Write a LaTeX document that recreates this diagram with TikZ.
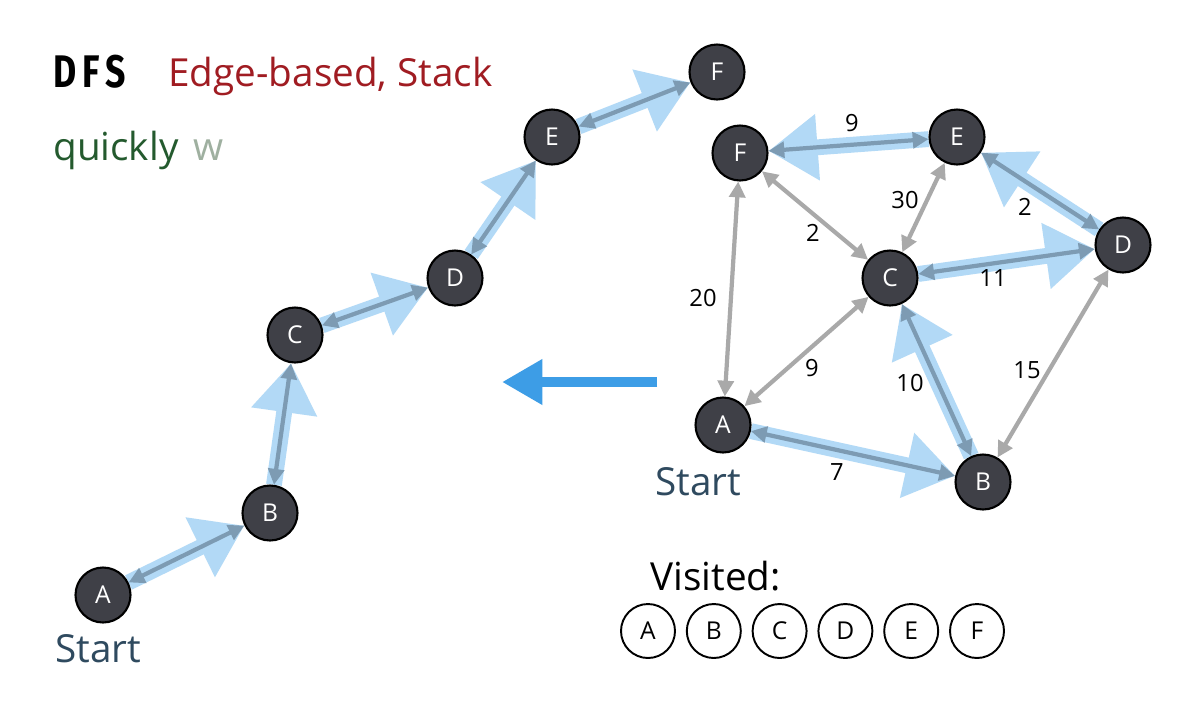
\documentclass[tikz,border=0pt]{standalone}
\usepackage{fontspec}
\setmainfont{Open Sans}
\newfontfamily\dfsfont{Fira Sans}
\usetikzlibrary{arrows.meta,backgrounds}
\definecolor{nodegray}{HTML}{3F4047}
\definecolor{titlered}{HTML}{A01C22}
\definecolor{quickgreen}{HTML}{245A2E}
\definecolor{wgray}{HTML}{9FB0A0}
\definecolor{startblue}{HTML}{2F4A5F}
\definecolor{arrowblue}{HTML}{3D9DE6}
\definecolor{edgegray}{HTML}{A9A9A9}
\definecolor{pathblue}{HTML}{7D9BB3}
\definecolor{glowblue}{HTML}{B2D9F6}
\begin{document}
\begin{tikzpicture}[x=0.02cm,y=-0.02cm,
  vertex/.style={circle,draw=black,line width=1.2pt,fill=nodegray,text=white,
    minimum size=1.1cm,inner sep=0pt,font=\fontsize{14}{16}\selectfont},
  visit/.style={circle,draw=black,line width=1.1pt,fill=white,
    minimum size=1.08cm,inner sep=0pt,font=\fontsize{14}{16}\selectfont},
  edge/.style={draw=edgegray,line width=2.4pt,{Triangle[length=9pt,width=9pt]}-{Triangle[length=9pt,width=9pt]}},
  tree/.style={edge,draw=pathblue},
  glow/.style={draw=glowblue,line width=9pt,-{Triangle[length=28pt,width=36pt]}},
  weight/.style={font=\fontsize{13.5}{15}\selectfont},
  label/.style={anchor=base west,inner sep=0pt},
  start/.style={label,text=startblue,font=\fontsize{22}{26}\selectfont}]
\useasboundingbox (0,0) rectangle (1189,701);

\node[label,font=\dfsfont\bfseries\fontsize{26}{28}\selectfont] (dfs) at (53,87) {\scalebox{0.78}[1]{D\,F\,S}};
\node[label,text=titlered,font=\fontsize{22}{26}\selectfont] (kind) at (168,86) {Edge-based, Stack};
\node[label,text=quickgreen,font=\fontsize{22}{26}\selectfont] (quick) at (53,160) {quickly};
\node[label,text=wgray,font=\fontsize{22}{26}\selectfont] (w) at (193,160) {w};

\node[vertex] (lA) at (103,595) {A};
\node[vertex] (lB) at (270,513) {B};
\node[vertex] (lC) at (295,335) {C};
\node[vertex] (lD) at (455,278) {D};
\node[vertex] (lE) at (552,137) {E};
\node[vertex] (lF) at (717,72) {F};
\node[start] (lstart) at (55,662) {Start};

\node[vertex] (rA) at (723,425) {A};
\node[vertex] (rB) at (983,482) {B};
\node[vertex] (rC) at (890,278) {C};
\node[vertex] (rD) at (1123,245) {D};
\node[vertex] (rE) at (957,137) {E};
\node[vertex] (rF) at (740,153) {F};
\node[start] (rstart) at (655,495) {Start};

\node[weight] at (852,123) {9};
\node[weight] at (905,200) {30};
\node[weight] at (813,233) {2};
\node[weight] at (1025,207) {2};
\node[weight] at (993,278) {11};
\node[weight] at (703,298) {20};
\node[weight] at (812,368) {9};
\node[weight] at (910,383) {10};
\node[weight] at (1027,370) {15};
\node[weight] at (837,472) {7};

\coordinate (moveS) at (657,382);
\coordinate (moveT) at (502,382);
\draw[draw=arrowblue,line width=6.2pt,-{Triangle[length=23pt,width=24.5pt]}] (moveS) -- (moveT);

\node[label,font=\fontsize{22}{26}\selectfont] (visited) at (650,590) {Visited:};
\foreach \l [count=\i] in {A,B,C,D,E,F}
  \node[visit] (v\l) at (648+65.8*\i-65.8,631) {\l};

\begin{pgfonlayer}{background}
\fill[white] (0,0) rectangle (1189,701);
\foreach \a/\b in {lA/lB,lB/lC,lC/lD,lD/lE,lE/lF,rA/rB,rB/rC,rC/rD,rD/rE,rE/rF}
  \draw[glow] (\a) -- (\b);
\foreach \a/\b in {rF/rA,rF/rC,rE/rC,rC/rA,rD/rB}
  \draw[edge] (\a) -- (\b);
\foreach \a/\b in {lA/lB,lB/lC,lC/lD,lD/lE,lE/lF,rA/rB,rB/rC,rC/rD,rD/rE,rE/rF}
  \draw[tree] (\a) -- (\b);
\end{pgfonlayer}
\end{tikzpicture}
\end{document}
